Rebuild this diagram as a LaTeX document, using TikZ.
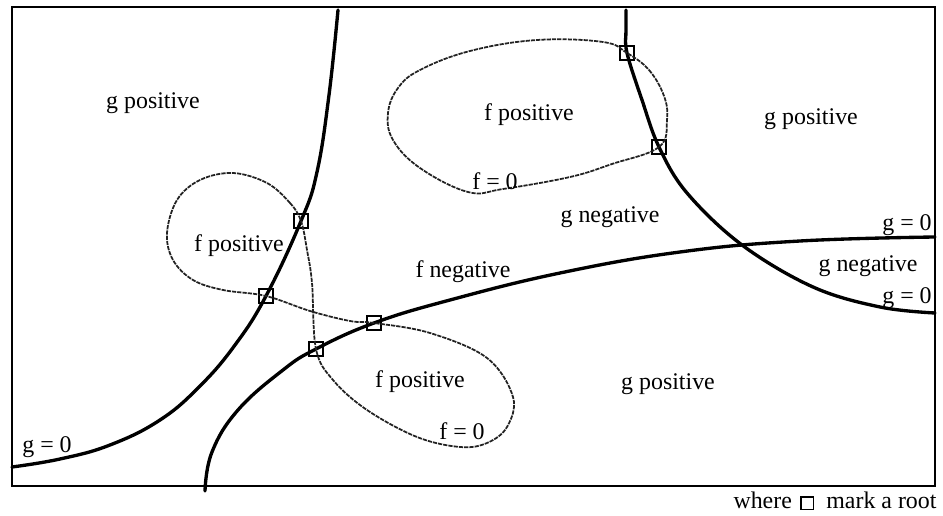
\documentclass[tikz,border=0pt]{standalone}
\usepackage{fontspec}
\setmainfont{Liberation Serif}
\usepackage{tikz}
\usetikzlibrary{positioning}
\definecolor{fGray}{HTML}{222222}
\tikzstyle{gcurve} = [line width=1.9pt, color=black, line cap=round]
\tikzstyle{fcurve} = [line width=1pt, color=fGray, dash pattern=on 2.4pt off 0.6pt]
\tikzstyle{rootsq} = [rectangle, draw, line width=1pt, minimum size=0.28cm, inner sep=0pt]
\tikzstyle{lbl} = [font=\fontsize{13.6}{15}\selectfont, inner sep=1pt]
\tikzstyle{frame} = [line width=1.2pt]

\begin{document}
\begin{tikzpicture}[x=0.02cm, y=-0.02cm]
  \useasboundingbox (0,0) rectangle (943,516);
  \draw[frame] (12,7) rectangle (935,486);

  % Roots (f = 0 and g = 0)
  \node[rootsq] (rootLeftTop) at (301,221) {};
  \node[rootsq] (rootLeftBot) at (266,296) {};
  \node[rootsq] (rootMidLeft) at (316,349) {};
  \node[rootsq] (rootMidRight) at (374,323) {};
  \node[rootsq] (rootOvalTop) at (627,53) {};
  \node[rootsq] (rootOvalBot) at (659,147) {};

  % g = 0
  \draw[gcurve] plot[smooth, tension=0.7] coordinates {(12,467) (60,459) (110,445) (160,420) (200,386)
    (235,345) (rootLeftBot.center) (rootLeftTop.center) (317,172) (329,95) (338,10)};
  \draw[gcurve] plot[smooth, tension=0.7] coordinates {(205,491) (212,452) (238,410) (283,370)
    (rootMidLeft.center) (rootMidRight.center) (450,300) (560,273) (680,252) (800,241) (935,237)};
  \draw[gcurve] plot[smooth, tension=0.6] coordinates {(626,10) (626,30) (rootOvalTop.center) (642,100)
    (rootOvalBot.center) (687,193) (742,245) (813,287) (880,307) (935,313)};

  % f = 0
  \draw[fcurve] plot[smooth cycle, tension=0.65] coordinates {(rootOvalTop.center) (649,70) (664,96)
    (667,120) (rootOvalBot.center) (612,164) (570,177) (503,189) (468,192) (420,168) (393,140)
    (388,113) (398,88) (420,70) (470,51) (537,40) (603,42)};
  \draw[fcurve] plot[smooth cycle, tension=0.6] coordinates {(rootLeftTop.center) (290,203) (267,183)
    (233,173) (200,180) (177,200) (167,233) (173,260) (193,280) (223,290) (rootLeftBot.center)
    (310,311) (350,321) (rootMidRight.center) (430,333) (487,358) (513,397) (507,427) (487,443)
    (460,447) (417,437) (367,410) (333,380) (rootMidLeft.center) (312,283) (307,250)};

  % Region labels
  \node[lbl] (gPosTL) at (153,103) {g positive};
  \node[lbl] (fPosTop) at (529,115) {f positive};
  \node[lbl] (gPosR) at (811,119) {g positive};
  \node[lbl] (fZeroTop) at (495,181) {f = 0};
  \node[lbl] (gNegMid) at (610,217) {g negative};
  \node[lbl] (gZeroR1) at (907,225) {g = 0};
  \node[lbl] (fPosL) at (239,246) {f positive};
  \node[lbl] (fNeg) at (463,272) {f negative};
  \node[lbl] (gNegR) at (868,266) {g negative};
  \node[lbl] (gZeroR2) at (907,298) {g = 0};
  \node[lbl] (fPosB) at (420,382) {f positive};
  \node[lbl] (gPosB) at (668,384) {g positive};
  \node[lbl] (fZeroB) at (462,431) {f = 0};
  \node[lbl] (gZeroL) at (47,447) {g = 0};

  % Legend
  \node[lbl, anchor=base east] (where) at (794,509) {where};
  \node[rootsq, minimum size=0.25cm, right=0.12cm of where, yshift=-0.05cm] (legsq) {};
  \node[lbl, right=0.2cm of legsq, yshift=0.05cm] (markroot) {mark a root};
\end{tikzpicture}
\end{document}
